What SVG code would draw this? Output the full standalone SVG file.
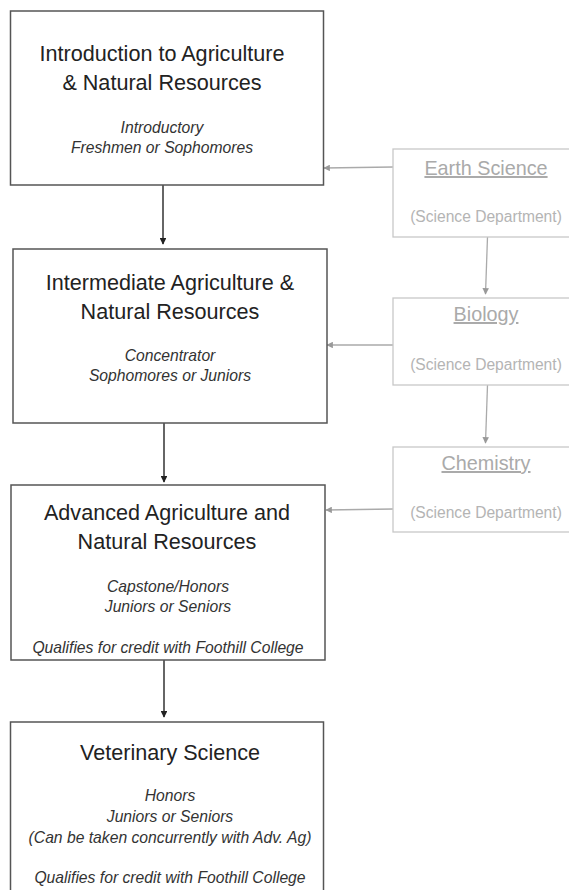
<svg xmlns="http://www.w3.org/2000/svg" width="569" height="890" viewBox="0 0 569 890">
<style>
.main{fill:#fff;stroke:#555;stroke-width:1.5}
.side{fill:#fff;stroke:#c8c8c8;stroke-width:1.3}
.t{font-family:"Liberation Sans",Arial,sans-serif;font-size:21.6px;fill:#222;text-anchor:middle}
.i{font-family:"Liberation Sans",Arial,sans-serif;font-size:15.7px;font-style:italic;fill:#333;text-anchor:middle}
.st{font-family:"Liberation Sans",Arial,sans-serif;font-size:19.8px;fill:#aaa;text-anchor:middle;text-decoration:underline}
.sd{font-family:"Liberation Sans",Arial,sans-serif;font-size:15.6px;fill:#b4b4b4;text-anchor:middle}
.dk{stroke:#333;stroke-width:1.5;fill:none}
.lt{stroke:#aaa;stroke-width:1.3;fill:none}
</style>
<defs>
<marker id="ad" viewBox="0 0 10 10" refX="9" refY="5" markerWidth="4.5" markerHeight="4.5" orient="auto" markerUnits="strokeWidth"><path d="M0,0 L10,5 L0,10 z" fill="#222"/></marker>
<marker id="al" viewBox="0 0 10 10" refX="9" refY="5" markerWidth="5" markerHeight="5" orient="auto" markerUnits="strokeWidth"><path d="M0,0 L10,5 L0,10 z" fill="#999"/></marker>
</defs>
<g id="connectors">
<line class="dk" x1="163" y1="185" x2="163" y2="244" marker-end="url(#ad)"/>
<line class="dk" x1="164" y1="423" x2="164" y2="482" marker-end="url(#ad)"/>
<line class="dk" x1="164" y1="660" x2="164" y2="717" marker-end="url(#ad)"/>
<line class="lt" x1="393" y1="167" x2="324" y2="168" marker-end="url(#al)"/>
<line class="lt" x1="393" y1="345" x2="327" y2="345" marker-end="url(#al)"/>
<line class="lt" x1="393" y1="509" x2="326" y2="510" marker-end="url(#al)"/>
<line class="lt" x1="487.5" y1="237" x2="485.5" y2="294" marker-end="url(#al)"/>
<line class="lt" x1="487.5" y1="385" x2="485.5" y2="443" marker-end="url(#al)"/>
</g>
<g id="intro">
<rect class="main" x="10.5" y="11" width="313" height="174"/>
<text class="t" x="162" y="61">Introduction to Agriculture</text>
<text class="t" x="162" y="90">&amp; Natural Resources</text>
<text class="i" x="162" y="133">Introductory</text>
<text class="i" x="162" y="153">Freshmen or Sophomores</text>
</g>
<g id="intermediate">
<rect class="main" x="13" y="249" width="314" height="174"/>
<text class="t" x="170" y="290">Intermediate Agriculture &amp;</text>
<text class="t" x="170" y="319">Natural Resources</text>
<text class="i" x="170" y="361">Concentrator</text>
<text class="i" x="170" y="381">Sophomores or Juniors</text>
</g>
<g id="advanced">
<rect class="main" x="11" y="485" width="314" height="175"/>
<text class="t" x="167" y="520">Advanced Agriculture and</text>
<text class="t" x="167" y="549">Natural Resources</text>
<text class="i" x="168" y="592">Capstone/Honors</text>
<text class="i" x="168" y="612">Juniors or Seniors</text>
<text class="i" x="168" y="653">Qualifies for credit with Foothill College</text>
</g>
<g id="veterinary">
<rect class="main" x="10.5" y="722" width="313" height="180"/>
<text class="t" x="170" y="760">Veterinary Science</text>
<text class="i" x="170" y="801">Honors</text>
<text class="i" x="170" y="822">Juniors or Seniors</text>
<text class="i" x="170" y="843">(Can be taken concurrently with Adv. Ag)</text>
<text class="i" x="170" y="883">Qualifies for credit with Foothill College</text>
</g>
<g id="earth">
<rect class="side" x="393" y="149" width="190" height="88"/>
<text class="st" x="486" y="175">Earth Science</text>
<text class="sd" x="486" y="222">(Science Department)</text>
</g>
<g id="biology">
<rect class="side" x="393" y="298" width="190" height="87"/>
<text class="st" x="486" y="321">Biology</text>
<text class="sd" x="486" y="370">(Science Department)</text>
</g>
<g id="chemistry">
<rect class="side" x="393" y="447" width="190" height="85"/>
<text class="st" x="486" y="470">Chemistry</text>
<text class="sd" x="486" y="518">(Science Department)</text>
</g>
</svg>
